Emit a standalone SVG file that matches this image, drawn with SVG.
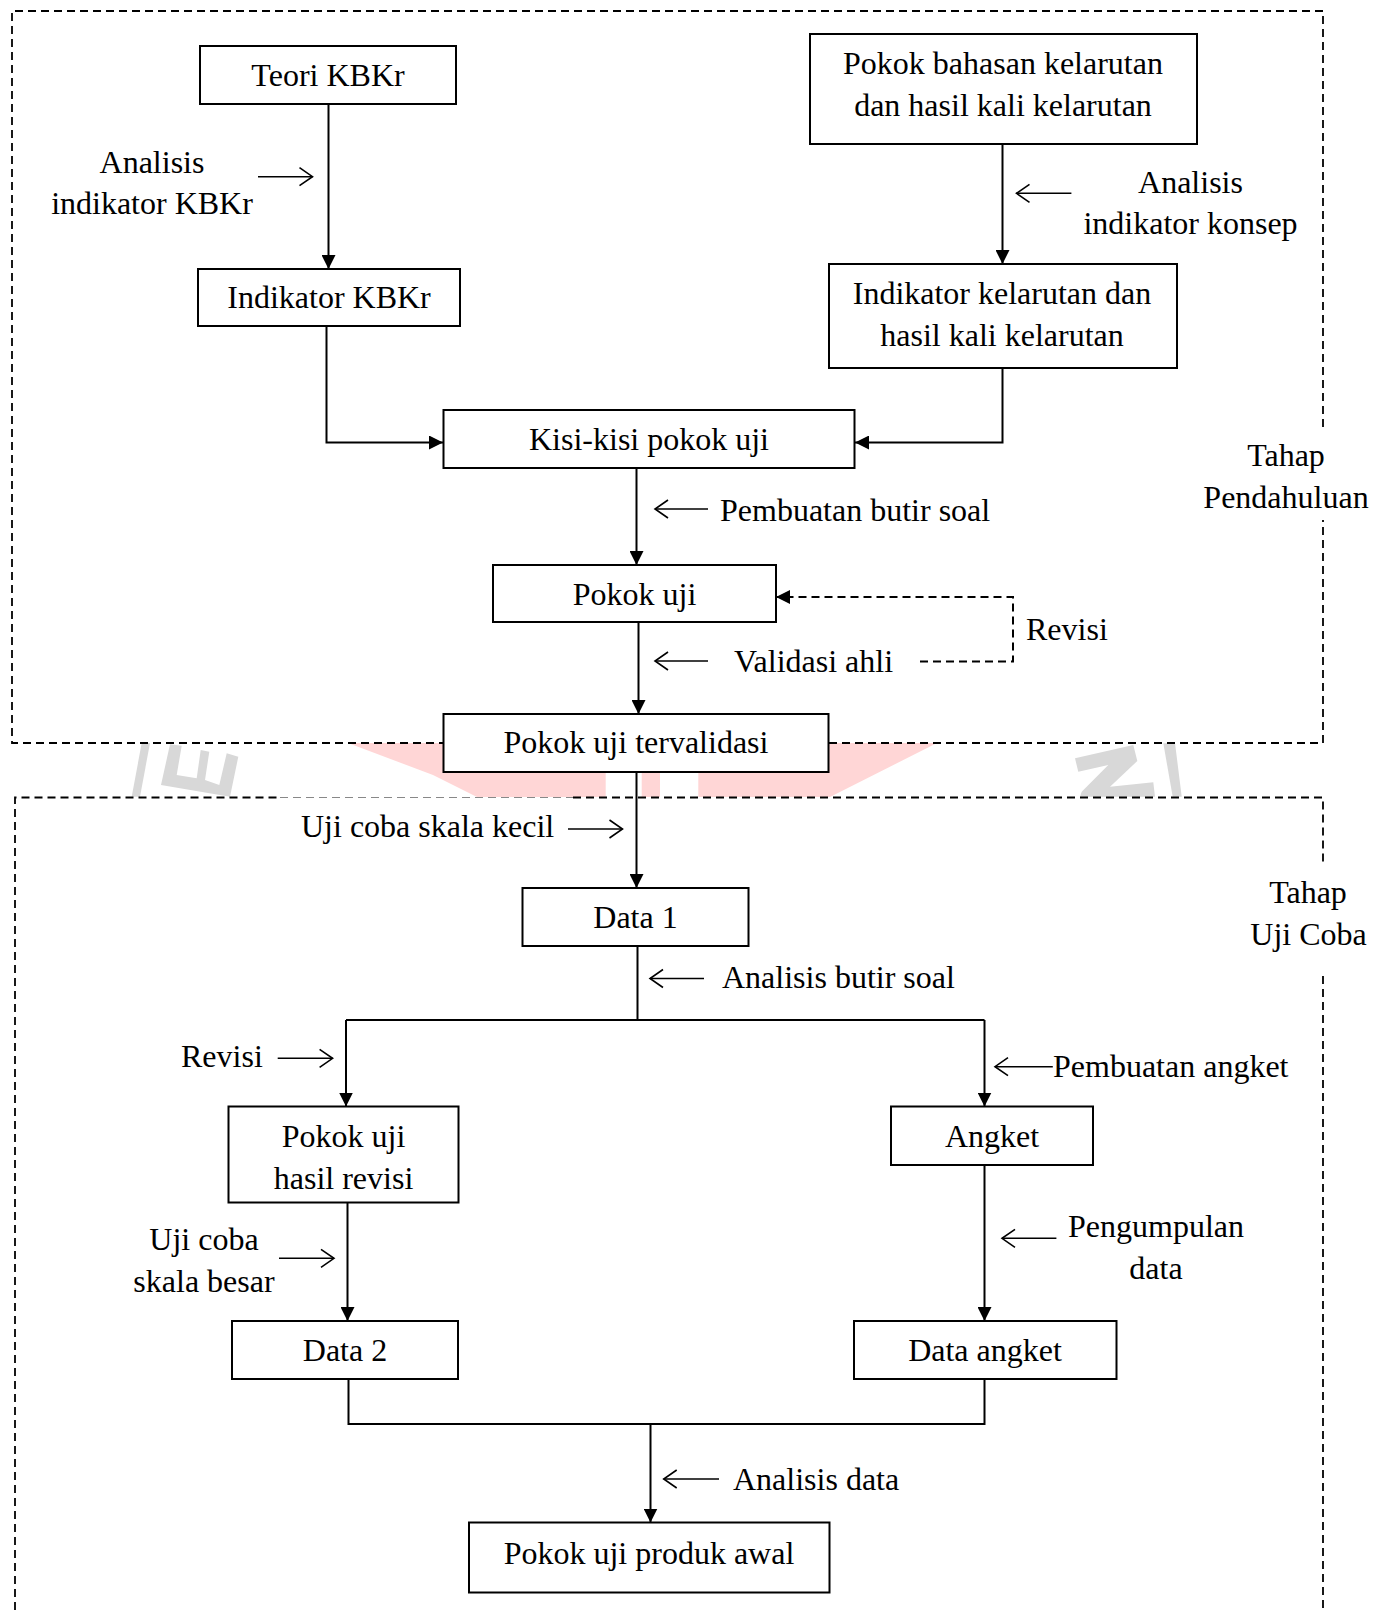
<svg xmlns="http://www.w3.org/2000/svg" width="1384" height="1610" viewBox="0 0 1384 1610">
<defs>
<style>
text{font-family:"Liberation Serif","Times New Roman",serif;font-size:32px;fill:#000}
.c{text-anchor:middle}
.box{fill:#fff;stroke:#000;stroke-width:2}
.ln{fill:none;stroke:#000;stroke-width:2}
.dash{fill:none;stroke:#000;stroke-width:2;stroke-dasharray:8 5}
.frame{fill:none;stroke:#000;stroke-width:1.8;stroke-dasharray:8 5}
.sm{fill:none;stroke:#000;stroke-width:1.6}
.wg{fill:#d8d8d8}
.wp{fill:#ffd6d6}
</style>
<marker id="ah" markerUnits="userSpaceOnUse" markerWidth="14" markerHeight="14" refX="14" refY="7" orient="auto">
<path d="M0,0 L14,7 L0,14 Z" fill="#000"/>
</marker>
<marker id="oh" markerUnits="userSpaceOnUse" markerWidth="16" markerHeight="22" refX="14" refY="10" orient="auto">
<path d="M1,1 L14,10 L1,19" fill="none" stroke="#000" stroke-width="1.6"/>
</marker>
</defs>
<rect width="1384" height="1610" fill="#fff"/>

<g id="watermark">
<polygon class="wp" points="348,743 937,743 830,797 477,797 433,775"/>
<rect x="605.7" y="773" width="36" height="24" fill="#fff"/>
<rect x="660" y="773" width="38.3" height="24" fill="#fff"/>
<polygon class="wg" points="141.7,743 150,743 140,796.7 131.7,796.7"/>
<polygon class="wg" points="170,744.3 181.7,745.7 176.7,775 196.7,778.3 200.7,750 209.3,751.7 205,780 219.3,785 226.7,753.3 238.3,756.7 230,796.7 161,785"/>
<polygon class="wg" points="1075,758.3 1133.3,745 1137.3,761 1110,786.7 1153.3,782.3 1155,796.7 1080,796.7 1081.7,791.7 1108.3,765 1078.3,771.7"/>
<polygon class="wg" points="1163.3,743.3 1175,743.3 1181.7,796.7 1172.7,796.7"/>
</g>

<g id="frames">
<path class="frame" d="M1323,427 V11 H12 V743 H443"/>
<path class="frame" d="M829,743 H1323 V520"/>
<path class="frame" d="M15,1610 V797.5 H280"/>
<path d="M280,797.5 H573" fill="none" stroke="#888" stroke-width="1" stroke-dasharray="8 5"/>
<path class="frame" d="M573,797.5 H1323 V862"/>
<path class="frame" d="M1323,976 V1610"/>
</g>

<g id="connectors">
<path class="ln" d="M328.5,104 V269" marker-end="url(#ah)"/>
<path class="ln" d="M326.5,326 V442.5 H443" marker-end="url(#ah)"/>
<path class="ln" d="M1002.5,144 V264" marker-end="url(#ah)"/>
<path class="ln" d="M1002.5,368 V442.5 H855" marker-end="url(#ah)"/>
<path class="ln" d="M636.5,468 V565" marker-end="url(#ah)"/>
<path class="ln" d="M638.5,622 V714" marker-end="url(#ah)"/>
<path class="dash" d="M920,661.5 H1013 V597 H776" marker-end="url(#ah)"/>
<path class="ln" d="M636.5,772 V888" marker-end="url(#ah)"/>
<path class="ln" d="M637.5,946 V1020 M346,1020 H984.5"/>
<path class="ln" d="M346,1020 V1106.5" marker-end="url(#ah)"/>
<path class="ln" d="M984.5,1020 V1106.5" marker-end="url(#ah)"/>
<path class="ln" d="M347.5,1203 V1321" marker-end="url(#ah)"/>
<path class="ln" d="M984.5,1165 V1321" marker-end="url(#ah)"/>
<path class="ln" d="M348.5,1379 V1424 H984.5 V1379"/>
<path class="ln" d="M650.5,1424 V1522.5" marker-end="url(#ah)"/>
</g>

<g id="label-arrows">
<path class="sm" d="M258,176.7 H312.5" marker-end="url(#oh)"/>
<path class="sm" d="M1071.4,193.3 H1016.5" marker-end="url(#oh)"/>
<path class="sm" d="M708,509 H655" marker-end="url(#oh)"/>
<path class="sm" d="M708,661 H655" marker-end="url(#oh)"/>
<path class="sm" d="M568,829 H622.5" marker-end="url(#oh)"/>
<path class="sm" d="M704,978.5 H650" marker-end="url(#oh)"/>
<path class="sm" d="M277.7,1058.3 H332.6" marker-end="url(#oh)"/>
<path class="sm" d="M1052.8,1066.7 H995" marker-end="url(#oh)"/>
<path class="sm" d="M279,1258.3 H334" marker-end="url(#oh)"/>
<path class="sm" d="M1056.4,1238.3 H1002" marker-end="url(#oh)"/>
<path class="sm" d="M719,1479 H663.7" marker-end="url(#oh)"/>
</g>

<g id="labels">
<text class="c" x="152" y="172.5">Analisis</text>
<text class="c" x="152" y="213.5">indikator KBKr</text>
<text class="c" x="1190.5" y="193">Analisis</text>
<text class="c" x="1190.5" y="234">indikator konsep</text>
<text x="720" y="521">Pembuatan butir soal</text>
<text x="1026" y="640">Revisi</text>
<text x="734" y="672">Validasi ahli</text>
<text x="301" y="837">Uji coba skala kecil</text>
<text x="722" y="988">Analisis butir soal</text>
<text x="181" y="1067">Revisi</text>
<text x="1053" y="1077">Pembuatan angket</text>
<text class="c" x="204" y="1250">Uji coba</text>
<text class="c" x="204" y="1292">skala besar</text>
<text class="c" x="1156" y="1237">Pengumpulan</text>
<text class="c" x="1156" y="1279">data</text>
<text x="733" y="1490">Analisis data</text>
<text class="c" x="1286" y="466">Tahap</text>
<text class="c" x="1286" y="507.5">Pendahuluan</text>
<text class="c" x="1308" y="903">Tahap</text>
<text class="c" x="1308.5" y="945">Uji Coba</text>
</g>

<g id="n-teori"><rect class="box" x="200" y="46" width="256" height="58"/><text class="c" x="328" y="86">Teori KBKr</text></g>
<g id="n-indikator-kbkr"><rect class="box" x="198" y="269" width="262" height="57"/><text class="c" x="329" y="308">Indikator KBKr</text></g>
<g id="n-pokok-bahasan"><rect class="box" x="810" y="34" width="387" height="110"/><text class="c" x="1003" y="74">Pokok bahasan kelarutan</text><text class="c" x="1003" y="116">dan hasil kali kelarutan</text></g>
<g id="n-indikator-kelarutan"><rect class="box" x="829" y="264" width="348" height="104"/><text class="c" x="1002" y="304">Indikator kelarutan dan</text><text class="c" x="1002" y="346">hasil kali kelarutan</text></g>
<g id="n-kisi"><rect class="box" x="443.5" y="410" width="411" height="58"/><text class="c" x="649" y="450">Kisi-kisi pokok uji</text></g>
<g id="n-pokok-uji"><rect class="box" x="493" y="565" width="283" height="57"/><text class="c" x="634.5" y="605">Pokok uji</text></g>
<g id="n-tervalidasi"><rect class="box" x="443.5" y="714" width="385" height="58"/><text class="c" x="636" y="753">Pokok uji tervalidasi</text></g>
<g id="n-data1"><rect class="box" x="522.5" y="888" width="226" height="58"/><text class="c" x="635.5" y="928">Data 1</text></g>
<g id="n-hasil-revisi"><rect class="box" x="228.5" y="1106.5" width="230" height="96"/><text class="c" x="343.5" y="1147">Pokok uji</text><text class="c" x="343.5" y="1188.5">hasil revisi</text></g>
<g id="n-angket"><rect class="box" x="891" y="1106.5" width="202" height="58.5"/><text class="c" x="992" y="1147">Angket</text></g>
<g id="n-data2"><rect class="box" x="232" y="1321" width="226" height="58"/><text class="c" x="345" y="1361">Data 2</text></g>
<g id="n-data-angket"><rect class="box" x="854" y="1321" width="262.5" height="58"/><text class="c" x="985" y="1361">Data angket</text></g>
<g id="n-produk-awal"><rect class="box" x="469" y="1522.5" width="360.5" height="70"/><text class="c" x="649" y="1564">Pokok uji produk awal</text></g>
</svg>
